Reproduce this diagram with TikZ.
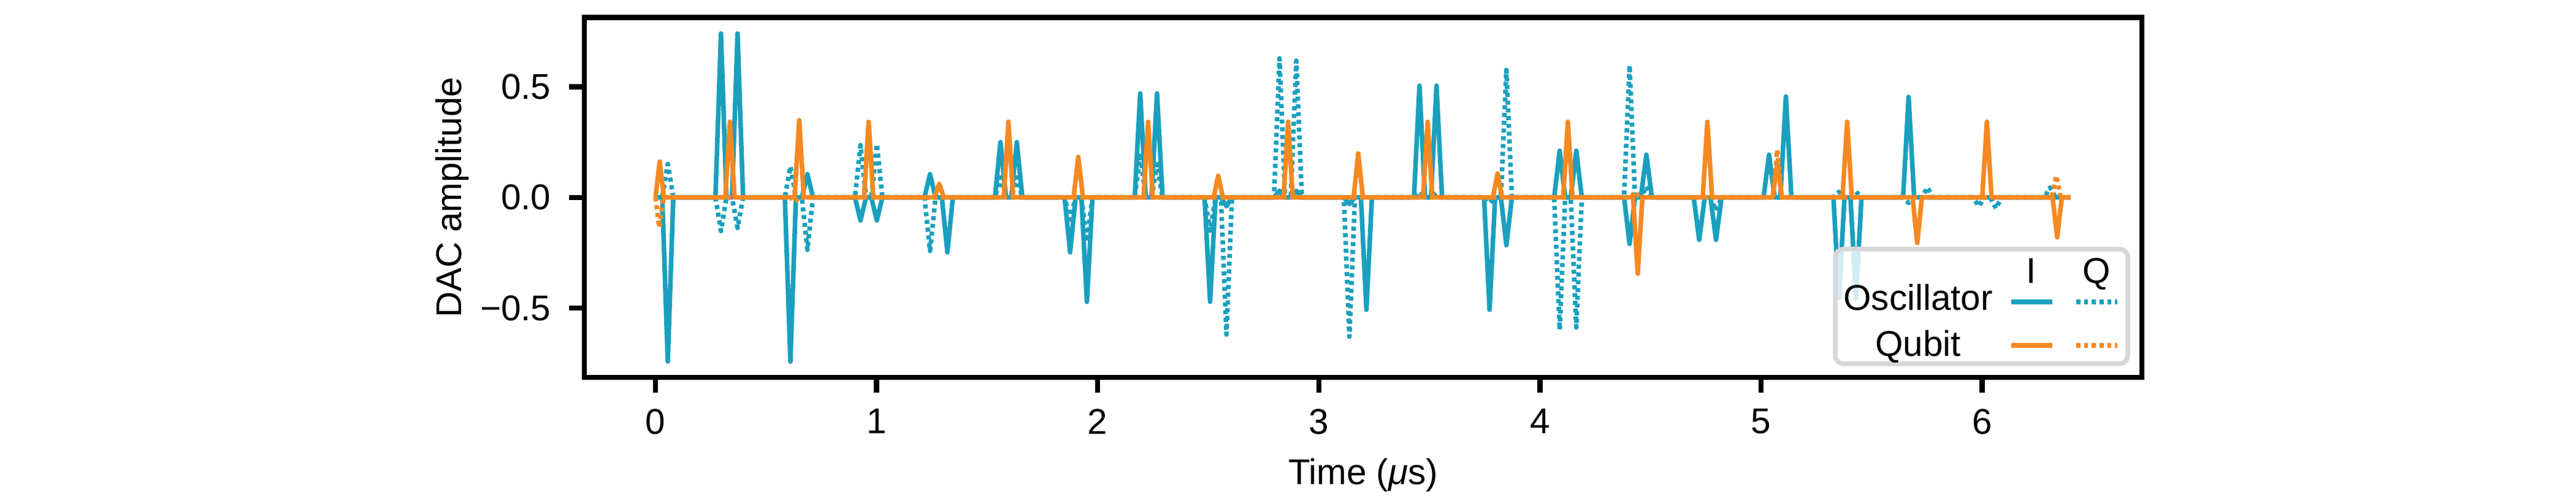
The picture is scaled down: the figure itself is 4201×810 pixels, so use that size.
\documentclass[tikz,border=0pt]{standalone}
\usepackage{fontspec}
\setmainfont{Liberation Sans}
\definecolor{oscblue}{RGB}{26,160,190}
\definecolor{qborange}{RGB}{245,137,33}
\definecolor{legframe}{RGB}{214,215,217}
\begin{document}
\begin{tikzpicture}[x=0.12pt,y=-0.12pt,
  every node/.style={inner sep=0pt, font=\fontsize{7pt}{8.4pt}\selectfont},
  axframe/.style={line width=1pt, draw=black},
  tickmark/.style={line width=1pt, draw=black},
  oscsolid/.style={draw=oscblue, line width=0.9pt, line join=round},
  oscdot/.style={draw=oscblue, line width=0.9pt, line join=round, line cap=butt, dash pattern=on 0.8pt off 0.72pt},
  qbsolid/.style={draw=qborange, line width=0.9pt, line join=round},
  qbdot/.style={draw=qborange, line width=0.9pt, line join=round, line cap=butt, dash pattern=on 0.8pt off 0.72pt},
  legbox/.style={line width=0.9pt, draw=legframe, fill=white, fill opacity=0.8, rounded corners=1.6pt}
]
\useasboundingbox (0,0) rectangle (4201,810);

% ---------------- data ----------------
\begin{scope}[shift={(1069,321.75)}, x=43.272pt, y=43.26pt]
% Oscillator I
\draw[oscsolid] (0,0)
  \foreach \c/\a in {0.0555/-0.742, 0.296/0.741, 0.371/0.741, 0.610/-0.742, 0.687/0.105,
    0.927/-0.104, 1.001/-0.104, 1.2415/0.105, 1.320/-0.248, 1.560/0.25, 1.634/0.25,
    1.875/-0.248, 1.951/-0.472, 2.192/0.47, 2.268/0.47, 2.508/-0.472, 2.582/-0.04,
    2.822/0.03, 2.898/0.03, 3.138/-0.03, 3.215/-0.508, 3.455/0.505, 3.532/0.505,
    3.772/-0.508, 3.848/-0.216, 4.089/0.211, 4.164/0.211, 4.405/-0.21, 4.481/0.193,
    4.720/-0.192, 4.796/-0.192, 5.036/0.193, 5.112/0.456, 5.352/-0.455, 5.429/-0.455,
    5.667/0.454}
  { -- ({\c-0.025},0) -- (\c,\a) -- ({\c+0.025},0) } -- (6.4,0);
% Oscillator Q
\draw[oscdot] (0,0)
  \foreach \c/\a in {0.0555/0.151, 0.296/-0.152, 0.371/-0.138, 0.610/0.14, 0.687/-0.237,
    0.927/0.236, 1.001/0.241, 1.2415/-0.242, 1.560/0.09, 1.634/0.09, 1.875/-0.1,
    1.951/-0.2, 2.192/0.2, 2.268/0.15, 2.508/-0.15, 2.582/-0.62, 2.822/0.629,
    2.898/0.618, 3.138/-0.63, 3.455/0.025, 3.532/0.02, 3.772/-0.025, 3.848/0.576,
    4.089/-0.598, 4.164/-0.588, 4.405/0.597, 4.481/0.05, 4.796/-0.06, 5.352/0.025,
    5.429/0.025, 5.667/-0.025, 5.752/0.045, 5.984/-0.04, 6.062/-0.05, 6.307/0.045}
  { -- ({\c-0.025},0) -- (\c,\a) -- ({\c+0.025},0) } -- (6.4,0);
% Qubit I
\draw[qbsolid] (0,0) -- (0.019,0.162) -- (0.038,0)
  \foreach \c/\a in {0.3366/0.342, 0.650/0.349, 0.964/0.342, 1.283/0.061, 1.596/0.342,
    1.912/0.183, 2.228/0.342, 2.545/0.098, 2.861/0.342, 3.178/0.199, 3.492/0.342,
    3.808/0.108, 4.126/0.342, 4.442/-0.345, 4.757/0.342, 5.073/0.156, 5.389/0.342,
    5.706/-0.206, 6.021/0.342, 6.339/-0.18}
  { -- ({\c-0.021},0) -- (\c,\a) -- ({\c+0.021},0) } -- (6.4,0);
% Qubit Q
\draw[qbdot] (0,0) -- (0.017,-0.136) -- (0.036,0)
  \foreach \c/\a in {0.63/-0.02, 4.431/0.025, 5.073/0.215, 6.335/0.098}
  { -- ({\c-0.02},0) -- (\c,\a) -- ({\c+0.02},0) } -- (6.4,0);
\end{scope}

% ---------------- axes ----------------
\draw[axframe] (953.3,28.5) rectangle (3493,615);
\foreach \k in {0,...,6} {
  \draw[tickmark] ({1069+\k*360.6},615) -- ++(0,25);
  \node[anchor=north] (xt\k) at ({1069+\k*360.6},665) {\k};
}
\foreach \yy/\lab/\nm in {141.5/0.5/a, 321.75/0.0/b, 502/−0.5/c} {
  \draw[tickmark] (953.3,\yy) -- ++(-25,0);
  \node[anchor=east] (yt\nm) at (900,\yy) {\lab};
}
\node[anchor=base, rotate=90] (ylab) at (752,321.75) {DAC amplitude};
\node[anchor=base] (xlab) at (2223,790) {Time ({\itshape μ}s)};

% ---------------- legend ----------------
\draw[legbox] (2993,406) rectangle (3470,593);
\node[anchor=base] (hI) at (3313,462) {I};
\node[anchor=base] (hQ) at (3419,462) {Q};
\node[anchor=base] (lo) at (3128,506) {Oscillator};
\node[anchor=base] (lq) at (3128,581) {Qubit};
\draw[oscsolid] (3280,492) -- (3347,492);
\draw[oscdot] (3386,492) -- (3453,492);
\draw[qbsolid] (3280,563) -- (3347,563);
\draw[qbdot] (3386,563) -- (3453,563);
\end{tikzpicture}
\end{document}
